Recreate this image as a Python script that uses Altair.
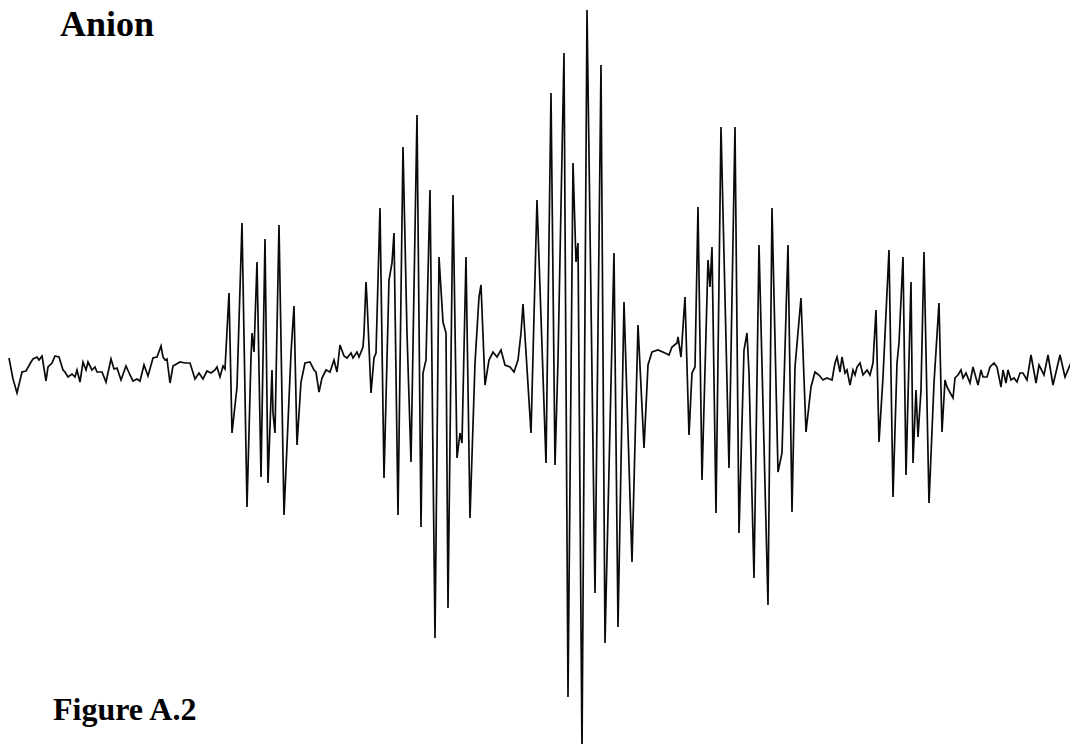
import altair as alt
import pandas as pd

# sample position (x) and signal amplitude (baseline ~0)
pos = [
    9, 13, 17, 22, 26, 31, 33, 37, 39, 42, 43, 46, 48, 52, 55, 59, 63, 65, 68, 72,
    75, 77, 80, 83, 86, 88, 92, 95, 97, 102, 106, 111, 114, 117, 121, 126, 130, 133, 137, 140,
    144, 148, 153, 157, 161, 163, 165, 167, 170, 173, 180, 185, 190, 195, 199, 203, 207, 211, 215, 217,
    220, 223, 225,
    229, 232, 237, 242, 247, 251, 252, 254, 257, 261, 265, 268, 272, 273, 275, 279, 284, 291, 294, 297,
    301, 305, 310, 314, 316, 319, 322, 326, 330, 334, 337,
    340, 344, 347, 351, 353, 357, 359, 363, 364, 366, 367, 371, 374, 376, 380, 384, 389, 392, 394, 398,
    403, 407, 411, 417, 421, 423, 426, 430, 435, 439, 443, 446, 448, 453, 457, 460, 462, 466, 470, 475,
    479, 481, 485, 489, 493, 497, 501,
    505, 510, 514, 518, 521, 523, 531, 537, 546, 551, 555, 558, 564, 568, 573, 576, 578, 582, 587, 595,
    601, 605, 614, 618, 624, 632, 638, 644, 648, 652, 658, 665,
    669, 672, 677, 678, 681, 685, 689, 692, 695, 698, 702, 708, 710, 712, 716, 721, 729, 735, 739, 744,
    747, 749, 754, 759, 768, 772, 778, 782, 788, 792, 795, 801, 806, 811, 815, 819, 823, 827, 832, 835,
    837, 840, 842, 845, 847, 850, 853, 855, 857, 860, 863, 867, 870, 873,
    876, 879, 883, 889, 893, 897, 899, 903, 906, 911, 913, 916, 918, 921, 924, 929, 934, 939, 942, 945,
    947, 953, 955, 958, 961, 963, 966, 970, 973, 976, 978, 981, 983, 987, 990, 994, 997, 1001, 1003, 1006,
    1008, 1011, 1014, 1017, 1020, 1023, 1027, 1031, 1036, 1039, 1044, 1048, 1053, 1060, 1065, 1070, 1075, 1078,
]

img_y = [
    358, 379, 393, 372, 371, 362, 359, 357, 360, 356, 362, 381, 367, 363, 356, 357, 370, 372, 377, 374,
    377, 370, 382, 362, 370, 362, 370, 367, 372, 372, 382, 359, 369, 368, 380, 366, 375, 381, 379, 381,
    365, 376, 358, 357, 346, 357, 360, 359, 383, 366, 362, 363, 363, 379, 373, 379, 371, 373, 370, 367,
    377, 366, 369,
    293, 433, 387, 223, 507, 357, 333, 352, 262, 477, 239, 483, 370, 413, 433, 225, 515, 353, 306, 445,
    382, 363, 362, 370, 372, 392, 378, 370, 372, 360, 372,
    345, 356, 358, 353, 358, 352, 357, 347, 333, 282, 300, 393, 358, 353, 208, 478, 280, 263, 233, 515,
    147, 333, 462, 115, 527, 373, 360, 190, 638, 257, 322, 333, 608, 195, 458, 433, 443, 257, 518, 363,
    297, 285, 385, 360, 352, 357, 350,
    365, 367, 372, 360, 333, 304, 433, 200, 463, 93, 465, 360, 53, 697, 163, 262, 243, 752, 10, 593,
    65, 643, 253, 627, 302, 562, 325, 448, 365, 352, 350, 353,
    355, 347, 343, 337, 357, 297, 435, 373, 367, 207, 480, 260, 287, 247, 513, 127, 468, 127, 533, 350,
    333, 373, 578, 245, 605, 208, 472, 453, 245, 512, 367, 298, 432, 387, 372, 375, 380, 378, 380, 363,
    357, 372, 357, 373, 370, 385, 370, 375, 367, 363, 375, 370, 375, 363,
    310, 442, 377, 250, 497, 363, 343, 257, 475, 282, 463, 390, 437, 390, 252, 503, 383, 303, 432, 380,
    387, 398, 378, 375, 370, 378, 373, 383, 367, 378, 385, 370, 377, 377, 367, 363, 367, 387, 370, 383,
    370, 380, 378, 382, 373, 373, 380, 355, 383, 365, 375, 355, 385, 355, 377, 365, 378, 377,
]

baseline = 370
amplitude = [baseline - v for v in img_y]

df = pd.DataFrame({"pos": pos, "amp": amplitude, "order": list(range(len(pos)))})

W, H = 1062, 736

line = alt.Chart(df).mark_line(color="#0a0a0a", strokeWidth=1.7, interpolate="linear", clip=True).encode(
    x=alt.X("pos:Q", scale=alt.Scale(domain=[8, 1070], nice=False, zero=False), axis=None),
    y=alt.Y("amp:Q", scale=alt.Scale(domain=[baseline - 744, baseline - 8], nice=False, zero=False), axis=None),
    order="order:Q",
)

titles = ["Anion", "Figure A.2"]
labels = pd.DataFrame({"t": titles})

anion = alt.Chart(labels.iloc[[0]]).mark_text(
    font="Liberation Serif", fontWeight="bold", fontSize=36, align="left", baseline="alphabetic", color="#000000"
).encode(text="t:N", x=alt.value(52), y=alt.value(28))

fig = alt.Chart(labels.iloc[[1]]).mark_text(
    font="Liberation Serif", fontWeight="bold", fontSize=32, align="left", baseline="alphabetic", color="#000000"
).encode(text="t:N", x=alt.value(45), y=alt.value(712))

chart = alt.layer(line, anion, fig).properties(
    width=W, height=H, padding=0, autosize=alt.AutoSizeParams(type="none"), background="white"
).configure_view(stroke=None)

chart.save("out.html", embed_options={"renderer": "svg", "actions": False})
